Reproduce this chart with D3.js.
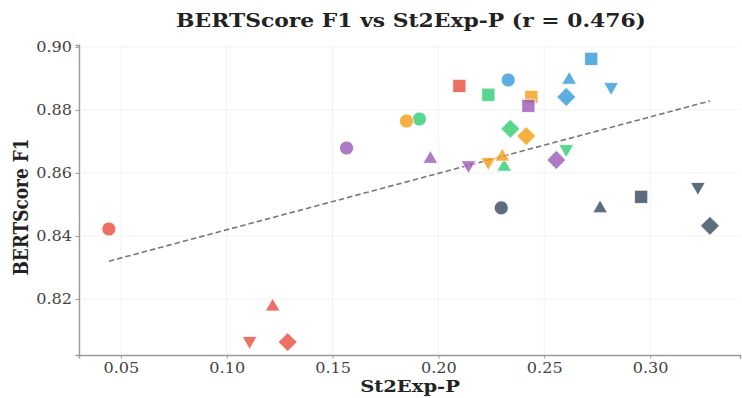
<!DOCTYPE html>
<html>
<head>
<meta charset="utf-8">
<script src="https://cdn.jsdelivr.net/npm/d3@7"></script>
<style>
  html, body { margin: 0; padding: 0; background: #fff; }
  svg { display: block; }
</style>
</head>
<body>
<svg id="chart" width="742" height="398"></svg>
<script>
// ---- data ----
const models = ["red", "green", "orange", "blue", "purple", "slate"];
const modelColors = ["#e74c3c", "#2ecc71", "#f39c12", "#3498db", "#9b59b6", "#34495e"];
const variants = ["circle", "square", "triangleUp", "triangleDown", "diamond"];
// St2Exp-P per model, in variant order
const xRed    = [0.0443, 0.2099, 0.1217, 0.1108, 0.1288];
const xGreen  = [0.1910, 0.2236, 0.2311, 0.2604, 0.2340];
const xOrange = [0.1849, 0.2439, 0.2302, 0.2236, 0.2415];
const xBlue   = [0.2330, 0.2722, 0.2618, 0.2816, 0.2604];
const xPurple = [0.1566, 0.2425, 0.1962, 0.2142, 0.2557];
const xSlate  = [0.2297, 0.2958, 0.2764, 0.3226, 0.3283];
// BERTScore F1 per model, in variant order
const yRed    = [0.8422, 0.8876, 0.8175, 0.8067, 0.8063];
const yGreen  = [0.8771, 0.8848, 0.8619, 0.8676, 0.8740];
const yOrange = [0.8765, 0.8841, 0.8651, 0.8635, 0.8717];
const yBlue   = [0.8895, 0.8962, 0.8895, 0.8873, 0.8841];
const yPurple = [0.8679, 0.8813, 0.8644, 0.8625, 0.8641];
const ySlate  = [0.8489, 0.8524, 0.8487, 0.8556, 0.8432];
const xTicks = [0.05, 0.10, 0.15, 0.20, 0.25, 0.30];
const yTicks = [0.82, 0.84, 0.86, 0.88, 0.90];
const titleText = "BERTScore F1 vs St2Exp-P (r = 0.476)";
const xLabel = "St2Exp-P";
const yLabel = "BERTScore F1";

const xs = [xRed, xGreen, xOrange, xBlue, xPurple, xSlate];
const ys = [yRed, yGreen, yOrange, yBlue, yPurple, ySlate];
const points = [];
models.forEach((m, i) => variants.forEach((v, j) => points.push({model: i, variant: v, x: xs[i][j], y: ys[i][j]})));

// ---- layout ----
const svg = d3.select("#chart");
const L = 79, R = 740, T = 45, B = 355;
const SX = 1.15; // horizontal text stretch seen in the reference
const x = d3.scaleLinear().domain([0.0302, 0.3425]).range([L, R]);
const y = d3.scaleLinear().domain([0.8022, 0.9006]).range([B, T]);
const serif = "'DejaVu Serif', serif";

// grid
svg.append("g").selectAll("line").data(xTicks).join("line")
  .attr("x1", d => x(d)).attr("x2", d => x(d)).attr("y1", T).attr("y2", B)
  .attr("stroke", "#f0f0f0").attr("stroke-width", 0.8);
svg.append("g").selectAll("line").data(yTicks).join("line")
  .attr("x1", L).attr("x2", R).attr("y1", d => y(d)).attr("y2", d => y(d))
  .attr("stroke", "#f0f0f0").attr("stroke-width", 0.8);

// axes
const xAxis = svg.append("g").attr("transform", `translate(0,${B})`)
  .call(d3.axisBottom(x).tickValues(xTicks).tickFormat(d3.format(".2f")).tickSize(3.5).tickPadding(5));
const yAxis = svg.append("g").attr("transform", `translate(${L},0)`)
  .call(d3.axisLeft(y).tickValues(yTicks).tickFormat(d3.format(".2f")).tickSize(3.5).tickPadding(3));
[xAxis, yAxis].forEach(a => {
  a.select(".domain").attr("stroke", "#9a9a9a").attr("stroke-width", 1.4);
  a.selectAll(".tick line").attr("stroke", "#9a9a9a").attr("stroke-width", 1);
  a.selectAll(".tick text").attr("font-family", serif).attr("font-size", 14).attr("fill", "#444")
    .attr("transform", `scale(${SX},1)`);
});
yAxis.selectAll(".tick text").attr("x", -7 / SX);

// regression line (least squares)
const mx = d3.mean(points, d => d.x), my = d3.mean(points, d => d.y);
const sxy = d3.sum(points, d => (d.x - mx) * (d.y - my));
const sxx = d3.sum(points, d => (d.x - mx) ** 2);
const slope = sxy / sxx, icpt = my - slope * mx;
const xr = d3.extent(points, d => d.x);
svg.append("line")
  .attr("x1", x(xr[0])).attr("y1", y(icpt + slope * xr[0]))
  .attr("x2", x(xr[1])).attr("y2", y(icpt + slope * xr[1]))
  .attr("stroke", "#777").attr("stroke-width", 1.6).attr("stroke-dasharray", "5.5,3");

// markers
const symFor = v => {
  if (v === "circle") return d3.symbol(d3.symbolCircle, 155)();
  if (v === "square") return d3.symbol(d3.symbolSquare, 175)();
  if (v === "diamond") return d3.symbol(d3.symbolSquare, 185)();
  return d3.symbol(d3.symbolTriangle, 95)();
};
const rotFor = v => v === "diamond" ? 45 : (v === "triangleDown" ? 180 : 0);
svg.append("g").selectAll("path").data(points).join("path")
  .attr("d", d => symFor(d.variant))
  .attr("transform", d => `translate(${x(d.x)},${y(d.y)}) rotate(${rotFor(d.variant)})`)
  .attr("fill", d => modelColors[d.model])
  .attr("fill-opacity", 0.8)
  .attr("stroke", "#fff").attr("stroke-width", 1).attr("stroke-opacity", 0.8);

// labels
svg.append("text").attr("transform", `translate(411,27) scale(${SX},1)`).attr("text-anchor", "middle")
  .attr("font-family", serif).attr("font-weight", "bold").attr("font-size", 19).attr("fill", "#222")
  .text(titleText);
svg.append("text").attr("transform", `translate(410,392) scale(${SX},1)`).attr("text-anchor", "middle")
  .attr("font-family", serif).attr("font-weight", "bold").attr("font-size", 17).attr("fill", "#222")
  .text(xLabel);
svg.append("text").attr("transform", `translate(28,207) scale(${SX},1) rotate(-90)`).attr("text-anchor", "middle")
  .attr("font-family", serif).attr("font-weight", "bold").attr("font-size", 17).attr("fill", "#222")
  .text(yLabel);
</script>
</body>
</html>
